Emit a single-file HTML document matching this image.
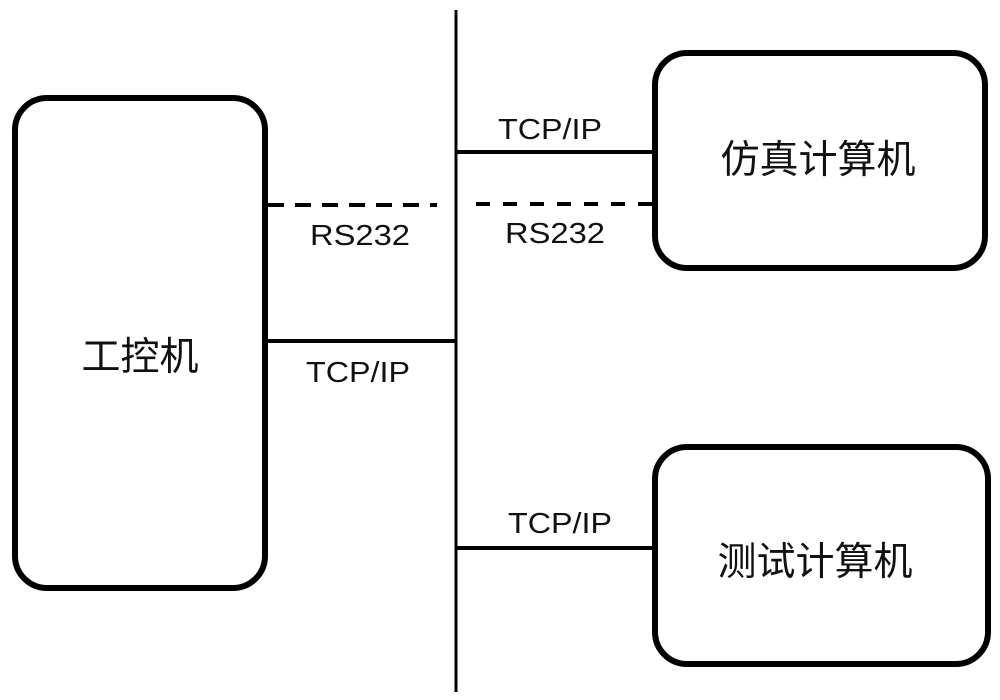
<!DOCTYPE html>
<html><head><meta charset="utf-8"><style>
body{margin:0;background:#fff;}
svg{display:block}
text{font-family:"Liberation Sans","Noto Sans CJK SC",sans-serif;fill:#111;}
</style></head><body>
<svg width="1000" height="700" viewBox="0 0 1000 700">
<g fill="none" stroke="#000">
<rect x="15" y="98" width="250" height="490" rx="32" stroke-width="6"/>
<rect x="655" y="53" width="330" height="215" rx="32" stroke-width="6"/>
<rect x="655" y="447" width="333" height="217" rx="32" stroke-width="6"/>
<line x1="456" y1="10" x2="456" y2="692" stroke-width="3"/>
<line x1="456" y1="152" x2="655" y2="152" stroke-width="4"/>
<line x1="456" y1="341" x2="268" y2="341" stroke-width="4"/>
<line x1="456" y1="548" x2="655" y2="548" stroke-width="4"/>
<line x1="268" y1="205" x2="437" y2="205" stroke-width="4" stroke-dasharray="16,11"/>
<line x1="476" y1="204" x2="655" y2="204" stroke-width="4" stroke-dasharray="14,13"/>
</g>
<g font-size="29">
<text x="498" y="139" textLength="104" lengthAdjust="spacingAndGlyphs">TCP/IP</text>
<text x="310" y="245" textLength="100" lengthAdjust="spacingAndGlyphs">RS232</text>
<text x="505" y="243" textLength="100" lengthAdjust="spacingAndGlyphs">RS232</text>
<text x="306" y="382" textLength="104" lengthAdjust="spacingAndGlyphs">TCP/IP</text>
<text x="508" y="533" textLength="104" lengthAdjust="spacingAndGlyphs">TCP/IP</text>
</g>
<text x="140" y="370" font-size="39" text-anchor="middle">工控机</text>
<text x="818" y="173" font-size="39" text-anchor="middle">仿真计算机</text>
<text x="815" y="575" font-size="39" text-anchor="middle">测试计算机</text>
</svg>
</body></html>
